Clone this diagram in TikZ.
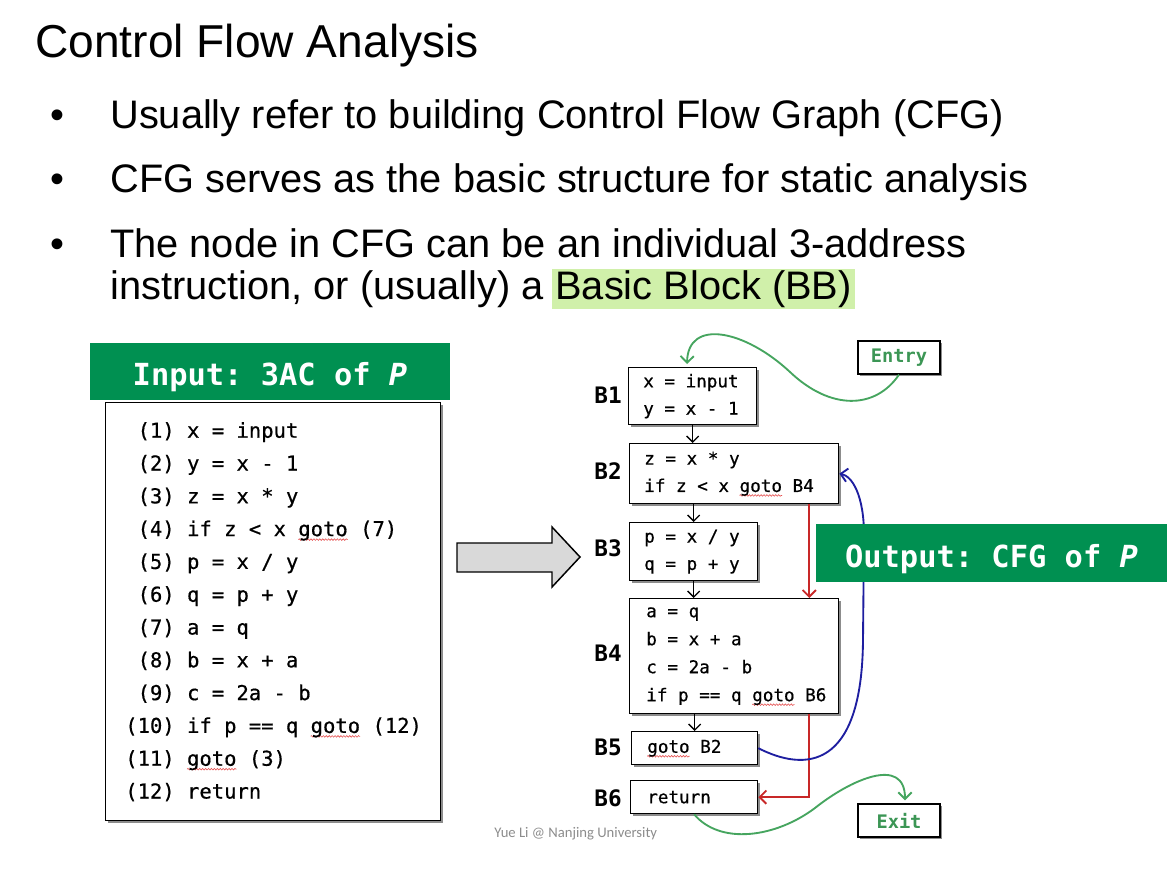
\documentclass[tikz,border=0pt]{standalone}
\usepackage{fontspec}
\setmainfont{Liberation Sans}
\setmonofont{DejaVu Sans Mono}
\newfontfamily\codefont[FakeBold=0.6]{DejaVu Sans Mono}
\newfontfamily\footfont{Carlito}
\usetikzlibrary{arrows.meta,calc,shadows,decorations.pathmorphing}
\definecolor{hdrgreen}{RGB}{0,144,81}
\definecolor{hlgreen}{RGB}{208,240,170}
\definecolor{curvegreen}{RGB}{70,165,95}
\definecolor{textgreen}{RGB}{60,150,85}
\definecolor{edgered}{RGB}{200,40,40}
\definecolor{edgeblue}{RGB}{30,30,160}
\definecolor{spellred}{RGB}{230,80,80}
\definecolor{footgray}{RGB}{140,140,140}
\definecolor{arrowgray}{RGB}{217,217,217}
\newlength\spw
\newcommand\spellmark[1]{\settowidth\spw{#1}\rlap{\tikz[overlay,baseline=0pt,x=1pt,y=1pt]{\draw[spellred,line width=0.45pt,decorate,decoration={snake,amplitude=0.6pt,segment length=2.2pt}] (0,-2.6) -- (\spw,-2.6);}}#1}
\begin{document}
\begin{tikzpicture}[x=0.75pt,y=-0.75pt,
  txt/.style={inner sep=0pt, anchor=base west, font=\fontsize{29.85}{36}\selectfont},
  bul/.style={inner sep=0pt, anchor=base, font=\fontsize{29.85}{36}\selectfont},
  blk/.style={draw=black, line width=1pt, fill=white, anchor=north west, inner sep=0pt,
    general shadow={fill=black!45, shadow xshift=1.5pt, shadow yshift=-1.5pt}},
  cfgtext/.style={anchor=west, inner sep=0pt, align=left, font=\codefont\fontsize{13.2}{20.5}\selectfont},
  codetext/.style={anchor=west, inner sep=0pt, align=left, font=\codefont\fontsize{15.4}{24.6}\selectfont},
  lbl/.style={inner sep=0pt, font=\ttfamily\bfseries\fontsize{17}{20}\selectfont},
  hdr/.style={fill=hdrgreen, text=white, inner sep=0pt, text height=20.5pt, text depth=0pt,
    font=\ttfamily\bfseries\fontsize{22.8}{27}\selectfont},
  term/.style={draw=black, line width=1pt, fill=white, inner sep=0pt, minimum width=61.5pt, minimum height=24.75pt,
    text=textgreen, font=\ttfamily\bfseries\fontsize{14}{16}\selectfont,
    general shadow={fill=black!45, shadow xshift=1.5pt, shadow yshift=-1.5pt}},
  flow/.style={line width=1pt, -{Straight Barb[length=4.5pt,width=9pt]}},
  redflow/.style={draw=edgered, line width=1.4pt, -{Straight Barb[length=5pt,width=10pt]}},
  blueflow/.style={draw=edgeblue, line width=1.4pt, -{Straight Barb[length=5pt,width=10pt]}},
  greenflow/.style={draw=curvegreen, line width=1.4pt, -{Straight Barb[length=5pt,width=10pt]}}
]
\useasboundingbox (0,0) rectangle (1167,872);

% title and bullets
\node[inner sep=0pt, anchor=base west, font=\fontsize{34.6}{40}\selectfont] (title) at (35,57) {Control Flow Analysis};
\node[bul] (b1) at (57,128) {\textbullet};
\node[txt] (t1) at (110,128) {Usually refer to building Control Flow Graph (CFG)};
\node[bul] (b2) at (57,192) {\textbullet};
\node[txt] (t2) at (110,192) {CFG serves as the basic structure for static analysis};
\node[bul] (b3) at (57,257) {\textbullet};
\node[txt] (t3) at (110,257) {The node in CFG can be an individual 3-address};
\node[txt] (t4) at (110,299) {instruction, or (usually) a};
\node[txt, fill=hlgreen, inner xsep=2.25pt, inner ysep=1pt, xshift=6pt] (bb) at (t4.base east) {Basic Block (BB)};

% input program
\node[hdr, minimum width=270pt, minimum height=42.75pt] (inhdr) at (270,371.5) {Input: 3AC of \textit{P}};
\node[blk, minimum width=251.25pt, minimum height=313.5pt] (code) at (105,402) {};
\node[codetext] (codet) at ($(code.west)+(20,0)$) {%
\phantom{0}(1) x = input\\
\phantom{0}(2) y = x - 1\\
\phantom{0}(3) z = x * y\\
\phantom{0}(4) if z < x \spellmark{goto} (7)\\
\phantom{0}(5) p = x / y\\
\phantom{0}(6) q = p + y\\
\phantom{0}(7) a = q\\
\phantom{0}(8) b = x + a\\
\phantom{0}(9) c = 2a - b\\
(10) if p == q \spellmark{goto} (12)\\
(11) \spellmark{goto} (3)\\
(12) return};

% big arrow
\draw[line width=1.1pt, fill=arrowgray, line join=miter]
  (457,543) -- (552,543) -- (552,527) -- (580,557) -- (552,587) -- (552,572) -- (457,572) -- cycle;

% CFG blocks
\node[blk, minimum width=96pt, minimum height=42.75pt] (B1) at (628,367) {};
\node[blk, minimum width=156.75pt, minimum height=45pt] (B2) at (629,443) {};
\node[blk, minimum width=96pt, minimum height=43.5pt] (B3) at (629,522) {};
\node[blk, minimum width=156.75pt, minimum height=86.25pt] (B4) at (629,598) {};
\node[blk, minimum width=94.5pt, minimum height=24.75pt] (B5) at (631,731) {};
\node[blk, minimum width=95.25pt, minimum height=24.75pt] (B6) at (630,780) {};

\node[cfgtext] (B1t) at ($(B1.west)+(15,0)$) {x = input\\y = x - 1};
\node[cfgtext] (B2t) at ($(B2.west)+(15,0)$) {z = x * y\\if z < x \spellmark{goto} B4};
\node[cfgtext] (B3t) at ($(B3.west)+(15,0)$) {p = x / y\\q = p + y};
\node[cfgtext, font=\codefont\fontsize{13.2}{21}\selectfont] (B4t) at ($(B4.west)+(17,0)$) {a = q\\b = x + a\\c = 2a - b\\if p == q \spellmark{goto} B6};
\node[cfgtext] (B5t) at ($(B5.west)+(16,0)$) {\spellmark{goto} B2};
\node[cfgtext] (B6t) at ($(B6.west)+(17,0)$) {return};

\node[lbl] (L1) at (608,395) {B1};
\node[lbl] (L2) at (608,471) {B2};
\node[lbl] (L3) at (608,548) {B3};
\node[lbl] (L4) at (608,653) {B4};
\node[lbl] (L5) at (608,747) {B5};
\node[lbl] (L6) at (608,798) {B6};

\node[term] (entry) at (899,357.5) {Entry};
\node[term] (exit) at (899,820.5) {Exit};

% fall-through edges
\draw[flow] (B1.south) -- (B1.south |- B2.north);
\draw[flow] (B3.north |- B2.south) -- (B3.north);
\draw[flow] (B3.south) -- (B3.south |- B4.north);
\draw[flow] (B5.north |- B4.south) -- (B5.north);

% jumps
\coordinate (r1) at ($(B2.south east)+(-30,0)$);
\coordinate (r2) at ($(B4.south east)+(-30,0)$);
\draw[redflow] (r1) -- (r1 |- B4.north);
\draw[redflow] (r2) |- (B6.east);
\draw[blueflow] (B5.east) .. controls (805,772) and (862,770) .. (863,640)
  -- (864,535) .. controls (864,495) and (852,476) .. (B2.east);

% entry / exit
\coordinate (e1) at ($(B1.north west)+(59,-3)$);
\coordinate (x1) at ($(exit.north)+(6,-3)$);
\draw[greenflow] (entry.south) .. controls (875,410) and (830,410) .. (790,372)
  .. controls (745,330) and (688,318) .. (e1);
\draw[greenflow] (B6.south) .. controls (720,845) and (775,838) .. (815,808)
  .. controls (850,780) and (905,755) .. (x1);

% output header
\node[hdr, minimum width=263.25pt, minimum height=43.5pt, text height=21pt] (outhdr) at (991.5,553) {Output: CFG of \textit{P}};

\node[inner sep=0pt, anchor=base west, font=\footfont\fontsize{11}{13}\selectfont, text=footgray] (foot) at (494,837) {Yue Li @ Nanjing University};
\end{tikzpicture}
\end{document}
